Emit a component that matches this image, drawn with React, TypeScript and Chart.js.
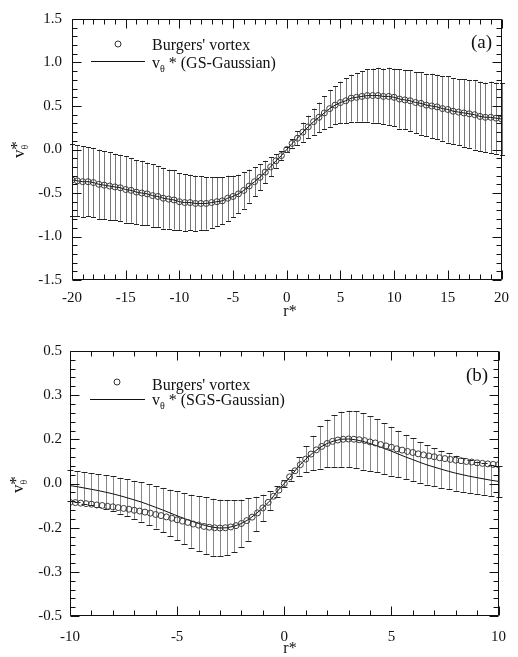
import React, { useEffect, useRef } from "react";
import { Chart, registerables } from "chart.js";
Chart.register(...registerables);

const SERIF = '"Liberation Serif", "Times New Roman", Times, serif';

// ---------------- Panel (a) ----------------
const rA = [-20,-19.5,-19,-18.5,-18,-17.5,-17,-16.5,-16,-15.5,-15,-14.5,-14,-13.5,-13,-12.5,-12,-11.5,-11,-10.5,-10,-9.5,-9,-8.5,-8,-7.5,-7,-6.5,-6,-5.5,-5,-4.5,-4,-3.5,-3,-2.5,-2,-1.5,-1,-0.5,0,0.5,1,1.5,2,2.5,3,3.5,4,4.5,5,5.5,6,6.5,7,7.5,8,8.5,9,9.5,10,10.5,11,11.5,12,12.5,13,13.5,14,14.5,15,15.5,16,16.5,17,17.5,18,18.5,19,19.5,20];
const burgersA = [-0.35,-0.36,-0.37,-0.37,-0.38,-0.40,-0.41,-0.42,-0.43,-0.44,-0.46,-0.47,-0.49,-0.50,-0.51,-0.53,-0.54,-0.56,-0.57,-0.58,-0.60,-0.61,-0.61,-0.62,-0.62,-0.62,-0.61,-0.60,-0.59,-0.56,-0.54,-0.51,-0.47,-0.42,-0.37,-0.32,-0.26,-0.20,-0.13,-0.07,0,0.07,0.13,0.20,0.26,0.32,0.37,0.42,0.47,0.51,0.54,0.56,0.59,0.60,0.61,0.62,0.62,0.62,0.61,0.61,0.60,0.58,0.57,0.56,0.54,0.53,0.51,0.50,0.49,0.47,0.46,0.44,0.43,0.42,0.41,0.40,0.38,0.37,0.37,0.36,0.35];
const gsMeanA = [-0.35,-0.36,-0.37,-0.37,-0.38,-0.40,-0.41,-0.42,-0.43,-0.44,-0.46,-0.47,-0.49,-0.50,-0.51,-0.53,-0.54,-0.56,-0.57,-0.58,-0.60,-0.61,-0.61,-0.62,-0.62,-0.62,-0.61,-0.60,-0.59,-0.56,-0.54,-0.51,-0.47,-0.42,-0.37,-0.32,-0.26,-0.20,-0.13,-0.07,0,0.07,0.13,0.20,0.26,0.32,0.37,0.42,0.47,0.51,0.54,0.56,0.59,0.60,0.61,0.62,0.62,0.62,0.61,0.61,0.60,0.58,0.57,0.56,0.54,0.53,0.51,0.50,0.49,0.47,0.46,0.44,0.43,0.42,0.41,0.40,0.38,0.37,0.37,0.36,0.35];
const gsErrA = [0.41,0.41,0.41,0.40,0.40,0.40,0.39,0.39,0.38,0.38,0.38,0.37,0.37,0.37,0.36,0.36,0.35,0.35,0.34,0.34,0.33,0.33,0.32,0.32,0.31,0.30,0.29,0.28,0.27,0.26,0.24,0.22,0.21,0.19,0.17,0.15,0.13,0.11,0.08,0.05,0.03,0.05,0.08,0.11,0.13,0.15,0.17,0.19,0.21,0.22,0.24,0.26,0.27,0.28,0.29,0.30,0.31,0.32,0.32,0.33,0.33,0.34,0.34,0.35,0.35,0.36,0.36,0.37,0.37,0.37,0.38,0.38,0.38,0.39,0.39,0.40,0.40,0.40,0.41,0.41,0.41];
const xTicksA = [-20,-15,-10,-5,0,5,10,15,20];
const xTickLabelsA = ["-20","-15","-10","-5","0","5","10","15","20"];
const yTicksA = [-1.5,-1,-0.5,0,0.5,1,1.5];
const yTickLabelsA = ["-1.5","-1.0","-0.5","0.0","0.5","1.0","1.5"];

// ---------------- Panel (b) ----------------
const rB = [-10,-9.75,-9.5,-9.25,-9,-8.75,-8.5,-8.25,-8,-7.75,-7.5,-7.25,-7,-6.75,-6.5,-6.25,-6,-5.75,-5.5,-5.25,-5,-4.75,-4.5,-4.25,-4,-3.75,-3.5,-3.25,-3,-2.75,-2.5,-2.25,-2,-1.75,-1.5,-1.25,-1,-0.75,-0.5,-0.25,0,0.25,0.5,0.75,1,1.25,1.5,1.75,2,2.25,2.5,2.75,3,3.25,3.5,3.75,4,4.25,4.5,4.75,5,5.25,5.5,5.75,6,6.25,6.5,6.75,7,7.25,7.5,7.75,8,8.25,8.5,8.75,9,9.25,9.5,9.75,10];
const burgersB = [-0.071,-0.072,-0.074,-0.076,-0.078,-0.081,-0.083,-0.086,-0.088,-0.091,-0.094,-0.097,-0.101,-0.104,-0.108,-0.112,-0.117,-0.121,-0.126,-0.131,-0.137,-0.142,-0.147,-0.153,-0.157,-0.162,-0.165,-0.167,-0.168,-0.167,-0.164,-0.159,-0.151,-0.140,-0.127,-0.111,-0.092,-0.071,-0.048,-0.025,0,0.025,0.048,0.071,0.092,0.111,0.127,0.140,0.151,0.159,0.164,0.167,0.168,0.167,0.165,0.162,0.157,0.153,0.147,0.142,0.137,0.131,0.126,0.121,0.117,0.112,0.108,0.104,0.101,0.097,0.094,0.091,0.088,0.086,0.083,0.081,0.078,0.076,0.074,0.072,0.071];
const rBModel = [-10,-9.67,-9.33,-9,-8.67,-8.33,-8,-7.67,-7.33,-7,-6.67,-6.33,-6,-5.67,-5.33,-5,-4.67,-4.33,-4,-3.67,-3.33,-3,-2.67,-2.33,-2,-1.67,-1.33,-1,-0.67,-0.33,0,0.33,0.67,1,1.33,1.67,2,2.33,2.67,3,3.33,3.67,4,4.33,4.67,5,5.33,5.67,6,6.33,6.67,7,7.33,7.67,8,8.33,8.67,9,9.33,9.67,10];
const sgsMeanB = [-0.008,-0.012,-0.017,-0.022,-0.027,-0.033,-0.039,-0.046,-0.054,-0.062,-0.070,-0.080,-0.090,-0.100,-0.111,-0.122,-0.132,-0.142,-0.151,-0.159,-0.165,-0.168,-0.167,-0.161,-0.151,-0.136,-0.115,-0.092,-0.065,-0.030,0,0.030,0.065,0.092,0.115,0.136,0.151,0.161,0.167,0.168,0.165,0.159,0.151,0.142,0.132,0.122,0.111,0.100,0.090,0.080,0.070,0.062,0.054,0.046,0.039,0.033,0.027,0.022,0.017,0.012,0.008];
const sgsErrB = [0.058,0.059,0.060,0.061,0.062,0.064,0.066,0.068,0.070,0.072,0.074,0.077,0.080,0.084,0.088,0.092,0.096,0.100,0.104,0.107,0.108,0.107,0.104,0.098,0.090,0.080,0.065,0.050,0.035,0.020,0.012,0.020,0.035,0.050,0.065,0.080,0.090,0.098,0.104,0.107,0.108,0.107,0.104,0.100,0.096,0.092,0.088,0.084,0.080,0.077,0.074,0.072,0.070,0.068,0.066,0.064,0.062,0.061,0.060,0.059,0.058];
const xTicksB = [-10,-5,0,5,10];
const xTickLabelsB = ["-10","-5","0","5","10"];
const yTicksB = [-0.5,-1/3,-1/6,0,1/6,1/3,0.5];
const yTickLabelsB = ["-0.5","-0.3","-0.2","0.0","0.2","0.3","0.5"];

type Cfg = {
  w: number; h: number; top: number;
  area: { left: number; top: number; right: number; bottom: number };
  xMin: number; xMax: number; yMin: number; yMax: number;
  xTicks: number[]; xTickLabels: string[]; yTicks: number[]; yTickLabels: string[];
  cx: number[]; cy: number[]; lx: number[]; ly: number[]; err: number[];
  barColor: string; capColor: string; capHalf: number;
  xPad: number; yPad: number;
  model: string; panel: string;
  legCircle: [number, number]; legText1: [number, number]; legLine: [number, number, number]; legText2: [number, number];
  panelPos: [number, number]; yTitle: [number, number]; xTitle: [number, number];
};

function drawParts(ctx: CanvasRenderingContext2D, x: number, y: number, parts: { t: string; s: number; dy: number; dx?: number }[]) {
  let cx = x;
  for (const p of parts) {
    ctx.font = `${p.s}px ${SERIF}`;
    cx += p.dx || 0;
    ctx.fillText(p.t, cx, y + p.dy);
    cx += ctx.measureText(p.t).width;
  }
}

function makeDecor(cfg: Cfg) {
  return {
    id: "decor",
    beforeDatasetsDraw(chart: any) {
      const ctx = chart.ctx as CanvasRenderingContext2D;
      const xs = chart.scales.x, ys = chart.scales.y;
      ctx.save();
      ctx.lineWidth = 1;
      ctx.strokeStyle = cfg.barColor;
      ctx.beginPath();
      cfg.lx.forEach((xv, i) => {
        const px = Math.round(xs.getPixelForValue(xv)) + 0.5;
        ctx.moveTo(px, ys.getPixelForValue(cfg.ly[i] + cfg.err[i]));
        ctx.lineTo(px, ys.getPixelForValue(cfg.ly[i] - cfg.err[i]));
      });
      ctx.stroke();
      ctx.strokeStyle = cfg.capColor;
      ctx.beginPath();
      cfg.lx.forEach((xv, i) => {
        const px = Math.round(xs.getPixelForValue(xv)) + 0.5;
        const t = Math.round(ys.getPixelForValue(cfg.ly[i] + cfg.err[i])) + 0.5;
        const b = Math.round(ys.getPixelForValue(cfg.ly[i] - cfg.err[i])) + 0.5;
        ctx.moveTo(px - cfg.capHalf, t); ctx.lineTo(px + cfg.capHalf, t);
        ctx.moveTo(px - cfg.capHalf, b); ctx.lineTo(px + cfg.capHalf, b);
      });
      ctx.stroke();
      ctx.restore();
    },
    afterDraw(chart: any) {
      const ctx = chart.ctx as CanvasRenderingContext2D;
      const xs = chart.scales.x, ys = chart.scales.y;
      const { left, right, top, bottom } = chart.chartArea;
      const L = Math.round(left) + 0.5, R = Math.round(right) - 0.5, T = Math.round(top) + 0.5, B = Math.round(bottom) - 0.5;
      ctx.save();
      ctx.strokeStyle = "#111";
      ctx.lineWidth = 1;
      ctx.beginPath();
      ctx.rect(L, T, R - L, B - T);
      const tickX = (v: number, len: number) => {
        const p = Math.round(xs.getPixelForValue(v)) + 0.5;
        ctx.moveTo(p, B); ctx.lineTo(p, B - len);
        ctx.moveTo(p, T); ctx.lineTo(p, T + len);
      };
      const tickY = (v: number, len: number) => {
        const p = Math.round(ys.getPixelForValue(v)) + 0.5;
        ctx.moveTo(L, p); ctx.lineTo(L + len, p);
        ctx.moveTo(R, p); ctx.lineTo(R - len, p);
      };
      cfg.xTicks.forEach((v, i) => {
        tickX(v, 9);
        if (i < cfg.xTicks.length - 1) {
          const d = (cfg.xTicks[i + 1] - v) / 5;
          for (let k = 1; k < 5; k++) tickX(v + k * d, 5);
        }
      });
      cfg.yTicks.forEach((v, i) => {
        tickY(v, 9);
        if (i < cfg.yTicks.length - 1) {
          const d = (cfg.yTicks[i + 1] - v) / 5;
          for (let k = 1; k < 5; k++) tickY(v + k * d, 5);
        }
      });
      ctx.stroke();

      // legend
      ctx.fillStyle = "#111";
      ctx.textAlign = "left";
      ctx.textBaseline = "alphabetic";
      ctx.strokeStyle = "#333";
      ctx.beginPath();
      ctx.arc(cfg.legCircle[0], cfg.legCircle[1], 3, 0, Math.PI * 2);
      ctx.stroke();
      ctx.font = `16px ${SERIF}`;
      ctx.fillText("Burgers' vortex", cfg.legText1[0], cfg.legText1[1]);
      ctx.strokeStyle = "#111";
      ctx.beginPath();
      ctx.moveTo(cfg.legLine[0], cfg.legLine[2] + 0.5);
      ctx.lineTo(cfg.legLine[1], cfg.legLine[2] + 0.5);
      ctx.stroke();
      drawParts(ctx, cfg.legText2[0], cfg.legText2[1], [
        { t: "v", s: 16, dy: 0 },
        { t: "\u03b8", s: 10, dy: 4 },
        { t: " * " + cfg.model, s: 16, dy: 0 },
      ]);
      ctx.font = `19px ${SERIF}`;
      ctx.fillText(cfg.panel, cfg.panelPos[0], cfg.panelPos[1]);

      // x title
      ctx.textAlign = "center";
      ctx.font = `16px ${SERIF}`;
      ctx.fillText("r*", cfg.xTitle[0], cfg.xTitle[1]);

      // y title rotated
      ctx.textAlign = "left";
      ctx.translate(cfg.yTitle[0], cfg.yTitle[1]);
      ctx.rotate(-Math.PI / 2);
      drawParts(ctx, 0, 0, [
        { t: "v", s: 17, dy: 0 },
        { t: "\u03b8", s: 10, dy: 4 },
        { t: "*", s: 17, dy: -2, dx: -5 },
      ]);
      ctx.restore();
    },
  };
}

function Panel({ cfg }: { cfg: Cfg }) {
  const ref = useRef<HTMLCanvasElement | null>(null);
  useEffect(() => {
    if (!ref.current) return;
    const tickFont = { family: SERIF, size: 15 };
    const chart = new Chart(ref.current, {
      type: "scatter",
      data: {
        datasets: [
          {
            label: "Burgers' vortex",
            data: cfg.cx.map((x, i) => ({ x, y: cfg.cy[i] })),
            showLine: false,
            pointStyle: "circle",
            pointRadius: 3,
            pointBorderWidth: 1,
            pointBorderColor: "#3a3a3a",
            pointBackgroundColor: "rgba(0,0,0,0)",
          },
          {
            label: cfg.model,
            data: cfg.lx.map((x, i) => ({ x, y: cfg.ly[i] })),
            showLine: true,
            borderColor: "#111",
            borderWidth: 1,
            pointRadius: 0,
            tension: 0,
          },
        ],
      } as any,
      options: {
        responsive: false,
        animation: false,
        devicePixelRatio: 1,
        events: [],
        layout: { padding: { left: 0, top: cfg.area.top, right: cfg.w - cfg.area.right, bottom: 0 } },
        plugins: { legend: { display: false }, tooltip: { enabled: false } },
        scales: {
          x: {
            type: "linear",
            min: cfg.xMin,
            max: cfg.xMax,
            afterBuildTicks: (s: any) => { s.ticks = cfg.xTicks.map((v) => ({ value: v })); },
            afterFit: (s: any) => { s.height = cfg.h - cfg.area.bottom; },
            ticks: {
              callback: (_v: any, i: number) => cfg.xTickLabels[i],
              font: tickFont, color: "#111", padding: cfg.xPad, maxRotation: 0, autoSkip: false,
            },
            grid: { display: false, drawTicks: false },
            border: { display: false },
          },
          y: {
            type: "linear",
            min: cfg.yMin,
            max: cfg.yMax,
            afterBuildTicks: (s: any) => { s.ticks = cfg.yTicks.map((v) => ({ value: v })); },
            afterFit: (s: any) => { s.width = cfg.area.left; },
            ticks: {
              callback: (_v: any, i: number) => cfg.yTickLabels[i],
              font: tickFont, color: "#111", padding: cfg.yPad, autoSkip: false,
            },
            grid: { display: false, drawTicks: false },
            border: { display: false },
          },
        },
      } as any,
      plugins: [makeDecor(cfg)],
    });
    return () => chart.destroy();
  }, [cfg]);
  return (
    <canvas
      ref={ref}
      width={cfg.w}
      height={cfg.h}
      style={{ position: "absolute", left: 0, top: cfg.top, width: cfg.w, height: cfg.h, display: "block" }}
    />
  );
}

const cfgA: Cfg = {
  w: 518, h: 330, top: 0,
  area: { left: 72, top: 15, right: 508, bottom: 280 },
  xMin: -20, xMax: 20, yMin: -1.5, yMax: 1.5,
  xTicks: xTicksA, xTickLabels: xTickLabelsA, yTicks: yTicksA, yTickLabels: yTickLabelsA,
  cx: rA, cy: burgersA, lx: rA, ly: gsMeanA, err: gsErrA,
  barColor: "#777", capColor: "#222", capHalf: 2.5,
  xPad: 9, yPad: 10,
  model: "(GS-Gaussian)", panel: "(a)",
  legCircle: [118, 44], legText1: [152, 50], legLine: [91, 145, 61], legText2: [152, 68],
  panelPos: [471, 48], yTitle: [24, 158], xTitle: [290, 316],
};

const cfgB: Cfg = {
  w: 518, h: 327, top: 330,
  area: { left: 70, top: 21, right: 508, bottom: 286 },
  xMin: -10, xMax: 10, yMin: -0.5, yMax: 0.5,
  xTicks: xTicksB, xTickLabels: xTickLabelsB, yTicks: yTicksB, yTickLabels: yTickLabelsB,
  cx: rB, cy: burgersB, lx: rBModel, ly: sgsMeanB, err: sgsErrB,
  barColor: "#888", capColor: "#222", capHalf: 3,
  xPad: 12, yPad: 8,
  model: "(SGS-Gaussian)", panel: "(b)",
  legCircle: [117, 52], legText1: [152, 60], legLine: [90, 145, 69], legText2: [152, 75],
  panelPos: [466, 51], yTitle: [23, 163], xTitle: [290, 323],
};

export default function App() {
  return (
    <div style={{ position: "absolute", left: 0, top: 0, width: 518, height: 657, background: "#fff", overflow: "hidden" }}>
      <Panel cfg={cfgA} />
      <Panel cfg={cfgB} />
    </div>
  );
}
